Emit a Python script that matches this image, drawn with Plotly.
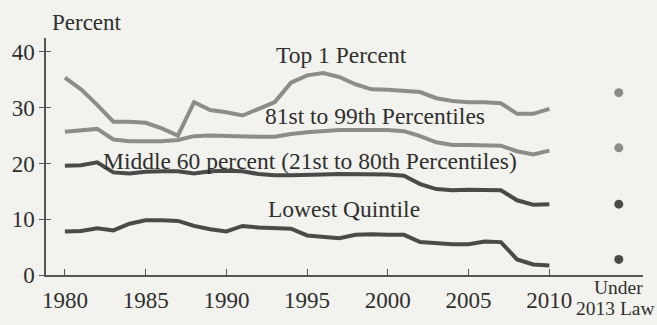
import plotly.graph_objects as go

years = list(range(1980, 2011))

top1 = [35.4, 33.3, 30.5, 27.5, 27.5, 27.3, 26.3, 25.0, 31.0, 29.6,
        29.2, 28.6, 29.8, 31.0, 34.5, 35.8, 36.2, 35.5, 34.2, 33.3,
        33.2, 33.0, 32.8, 31.7, 31.2, 31.0, 31.0, 30.8, 28.9, 28.9, 29.8]

p81_99 = [25.7, 26.0, 26.2, 24.3, 24.0, 24.0, 24.0, 24.2, 24.9, 25.0,
          24.9, 24.8, 24.8, 24.8, 25.3, 25.6, 25.8, 26.0, 26.0, 26.0,
          26.0, 25.8, 24.9, 23.8, 23.3, 23.3, 23.3, 23.2, 22.2, 21.6, 22.3]

middle60 = [19.6, 19.7, 20.2, 18.4, 18.2, 18.5, 18.6, 18.6, 18.2, 18.6,
            18.7, 18.6, 18.1, 17.9, 17.9, 17.9, 18.0, 18.1, 18.1, 18.0,
            18.0, 17.8, 16.3, 15.4, 15.2, 15.3, 15.3, 15.2, 13.4, 12.6, 12.7]

lowest = [7.8, 7.9, 8.4, 8.0, 9.2, 9.8, 9.8, 9.7, 8.8, 8.2,
          7.8, 8.8, 8.5, 8.4, 8.3, 7.1, 6.9, 6.6, 7.2, 7.3,
          7.2, 7.2, 5.9, 5.7, 5.5, 5.5, 6.0, 5.9, 2.8, 1.9, 1.7]

# projected rates under 2013 law, same group order as the series above
law2013 = [32.7, 22.8, 12.7, 2.8]
law_x = 2014.3

series_names = ["Top 1 Percent", "81st to 99th Percentiles",
                "Middle 60 percent (21st to 80th Percentiles)", "Lowest Quintile"]
label_x = [1997.1, 1999.2, 1995.2, 1997.3]
label_y = [39.5, 28.6, 20.5, 11.8]

year_ticks = [1980, 1985, 1990, 1995, 2000, 2005, 2010]

light = "#8c8c8a"
dark = "#4a4a48"
ink = "#2f2f2d"
bg = "#f2f2ef"
font_family = "'Liberation Serif', serif"

fig = go.Figure()
for vals, col in zip([top1, p81_99, middle60, lowest], [light, light, dark, dark]):
    fig.add_trace(go.Scatter(x=years, y=vals, mode="lines",
                             line=dict(color=col, width=4), showlegend=False,
                             hoverinfo="skip"))

fig.add_trace(go.Scatter(x=[law_x] * 4, y=law2013, mode="markers",
                         marker=dict(color=[light, light, dark, dark], size=9,
                                     line=dict(width=0)),
                         showlegend=False, hoverinfo="skip"))

# invisible trace on the overlay axis so its inward ticks are drawn
fig.add_trace(go.Scatter(x=[1980], y=[0], yaxis="y2", mode="markers",
                         marker=dict(opacity=0), showlegend=False, hoverinfo="skip"))

for name, lx, ly in zip(series_names, label_x, label_y):
    fig.add_annotation(x=lx, y=ly, text=name, showarrow=False,
                       font=dict(family=font_family, size=23.5, color=ink),
                       xanchor="center", yanchor="middle")

fig.add_annotation(xref="paper", yref="paper", x=0.007, y=1.066, text="Percent",
                   showarrow=False, xanchor="left", yanchor="middle",
                   font=dict(family=font_family, size=23, color=ink))
fig.add_annotation(xref="x", yref="paper", x=law_x, y=-0.052, text="Under",
                   showarrow=False, xanchor="center", yanchor="middle",
                   font=dict(family=font_family, size=19.5, color=ink))
fig.add_annotation(xref="paper", yref="paper", x=1.0233, y=-0.143, text="2013 Law",
                   showarrow=False, xanchor="right", yanchor="middle",
                   font=dict(family=font_family, size=19.5, color=ink))

y_range = [0, 42.5]
fig.update_layout(
    width=657, height=325,
    margin=dict(l=43, r=14, t=38, b=46),
    paper_bgcolor=bg, plot_bgcolor=bg,
    font=dict(family=font_family, size=23, color=ink),
    xaxis=dict(range=[1978.83, 2015.8], tickvals=year_ticks,
               ticks="inside", ticklen=6, tickcolor="#555",
               showline=True, linecolor="#555", linewidth=1.5,
               showgrid=False, zeroline=False, ticklabelstandoff=4,
               tickfont=dict(family=font_family, size=23, color=ink)),
    yaxis=dict(range=y_range, tickvals=[0, 10, 20, 30, 40],
               ticks="outside", ticklen=5, tickcolor="#555",
               showline=True, linecolor="#555", linewidth=1.5,
               showgrid=False, zeroline=False,
               tickfont=dict(family=font_family, size=23, color=ink)),
    yaxis2=dict(range=y_range, overlaying="y", side="left",
                tickvals=[0, 10, 20, 30, 40], ticks="inside", ticklen=5,
                tickcolor="#555", showticklabels=False, showline=False,
                showgrid=False, zeroline=False),
)

fig.write_html("out.html")
